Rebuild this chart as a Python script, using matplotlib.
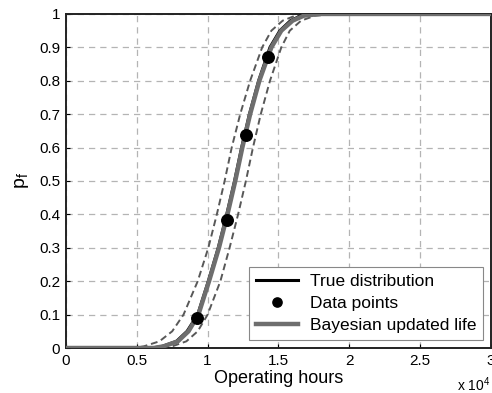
import numpy as np
import matplotlib
matplotlib.use("Agg")
import matplotlib.pyplot as plt

plt.rcParams['font.family'] = ['Liberation Sans', 'DejaVu Sans']

# probability levels
p_levels = [0.0, 0.005, 0.02, 0.05, 0.1, 0.2, 0.3, 0.4, 0.5, 0.6, 0.7, 0.8, 0.9, 0.95, 0.98, 0.995, 1.0]

# operating hours (x 10^4) at each level
x_bayes = [0.62, 0.69, 0.79, 0.865, 0.935, 1.01, 1.08, 1.14, 1.195, 1.245, 1.30, 1.365, 1.45, 1.52, 1.60, 1.68, 1.80]
x_true = [0.61, 0.68, 0.78, 0.855, 0.93, 1.005, 1.075, 1.135, 1.19, 1.24, 1.295, 1.36, 1.44, 1.51, 1.585, 1.66, 1.78]
x_lower = [0.48, 0.55, 0.66, 0.75, 0.83, 0.93, 1.005, 1.065, 1.12, 1.17, 1.23, 1.30, 1.385, 1.45, 1.53, 1.62, 1.74]
x_upper = [0.68, 0.75, 0.85, 0.93, 1.00, 1.09, 1.155, 1.215, 1.27, 1.32, 1.375, 1.44, 1.52, 1.58, 1.66, 1.76, 1.92]

# data points
pts_x = [0.927, 1.134, 1.268, 1.423]
pts_y = [0.089, 0.383, 0.639, 0.870]


def extend(xs, ps):
    return [0.0] + list(xs) + [3.0], [0.0] + list(ps) + [1.0]


fig = plt.figure(figsize=(4.92, 3.93), dpi=100)
ax = fig.add_axes([0.134, 0.1145, 0.864, 0.85])

gx, gy = extend(x_lower, p_levels)
ax.plot(gx, gy, color='#585858', lw=1.4, dashes=(3.5, 2))
gx, gy = extend(x_upper, p_levels)
ax.plot(gx, gy, color='#585858', lw=1.4, dashes=(3.5, 2))

tx, ty = extend(x_true, p_levels)
bx, by = extend(x_bayes, p_levels)
h_true, = ax.plot(tx, ty, color='black', lw=2.2, label='True distribution', zorder=3)
h_bayes, = ax.plot(bx, by, color='#6e6e6e', lw=3.2, label='Bayesian updated life', zorder=4)
h_pts, = ax.plot(pts_x, pts_y, 'o', color='black', ms=8.3, label='Data points', zorder=5)

ax.set_xlim(0, 3)
ax.set_ylim(0, 1)
ax.set_xticks([0, 0.5, 1, 1.5, 2, 2.5, 3])
ax.set_xticklabels(['0', '0.5', '1', '1.5', '2', '2.5', '3'])
ax.set_yticks(np.arange(0, 1.01, 0.1))
ax.set_yticklabels(['0', '0.1', '0.2', '0.3', '0.4', '0.5', '0.6', '0.7', '0.8', '0.9', '1'])
ax.tick_params(direction='in', length=3, labelsize=11, pad=4)
ax.grid(True, color='#b4b4b4', linestyle=(0, (5, 4)), lw=0.9)
for s in ax.spines.values():
    s.set_linewidth(1.4)
    s.set_color('#222222')

ax.set_xlabel('Operating hours', fontsize=13, labelpad=2)
ax.set_ylabel('p$_\\mathregular{f}$', fontsize=14, labelpad=6)
fig.text(0.928, 0.006, 'x 10$^\\mathregular{4}$', fontsize=10)

leg = ax.legend([h_true, h_pts, h_bayes], ['True distribution', 'Data points', 'Bayesian updated life'],
                loc='lower right', fontsize=12.5, fancybox=False, framealpha=1,
                edgecolor='#888888', borderaxespad=0.45, handlelength=2.4,
                handletextpad=0.7, borderpad=0.4, labelspacing=0.4, markerscale=0.8)
leg.get_frame().set_linewidth(0.8)

fig.savefig('out.png', dpi=100)
